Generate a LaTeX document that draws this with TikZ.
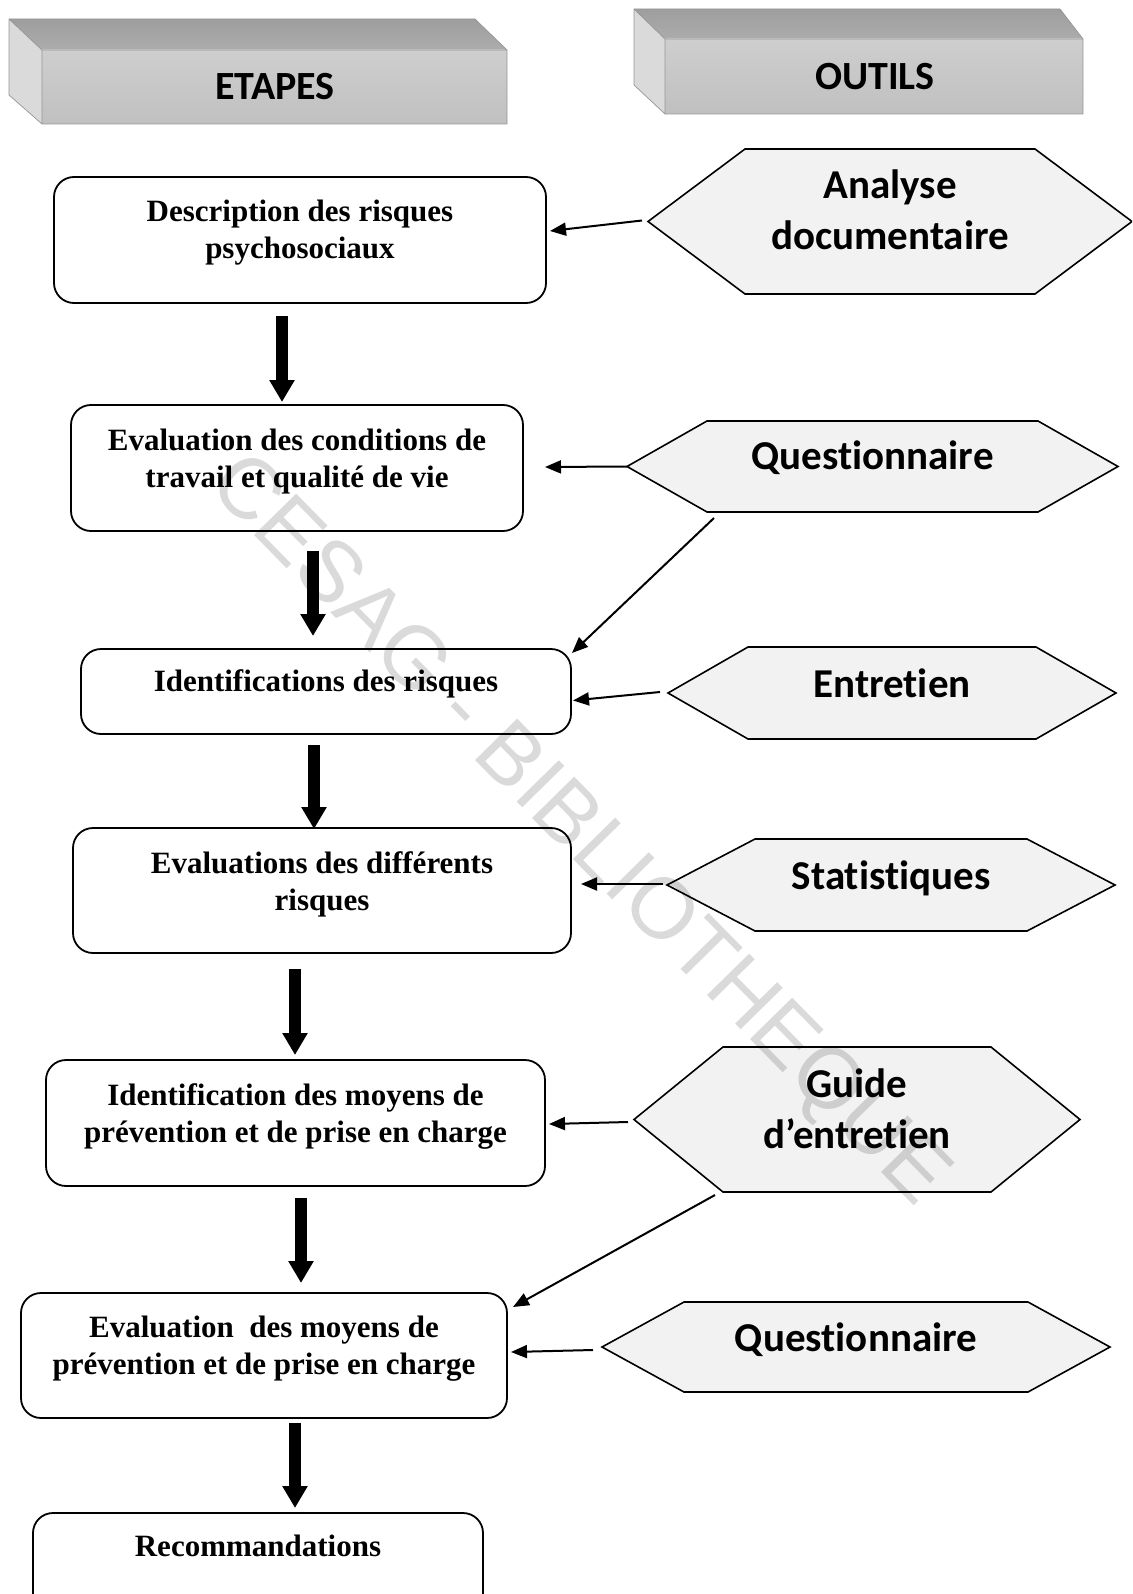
\documentclass[tikz,border=0pt]{standalone}
\usepackage{fontspec}
\setmainfont{Liberation Serif}
\newfontfamily\calibfont[Ligatures=NoCommon]{Carlito}
\newfontfamily\wmfont{Liberation Sans}
\usetikzlibrary{arrows.meta,calc}
\definecolor{wmgray}{RGB}{218,218,218}
\definecolor{topface}{RGB}{158,158,158}
\definecolor{topfaceb}{RGB}{172,172,172}
\definecolor{frontface}{RGB}{192,192,192}
\definecolor{frontfacet}{RGB}{206,206,206}
\definecolor{sideface}{RGB}{218,218,218}
\definecolor{edgegray}{RGB}{150,150,150}
\newcommand\drawhex[2]{\draw[hexline] (#1.west) -- ([xshift=#2]#1.north west) -- ([xshift=-#2]#1.north east) -- (#1.east) -- ([xshift=-#2]#1.south east) -- ([xshift=#2]#1.south west) -- cycle;}
\begin{document}
\begin{tikzpicture}[x=1pt,y=-1pt,
  stepbox/.style={draw=black, line width=1.8pt, rounded corners=20pt, inner sep=0pt, outer sep=0pt},
  boxtext/.style={font=\bfseries\fontsize{31}{37}\selectfont, align=center, inner sep=0pt},
  hextext/.style={font=\calibfont\bfseries\fontsize{41}{51}\selectfont, align=center, inner sep=0pt},
  headtext/.style={font=\calibfont\bfseries\fontsize{40}{48}\selectfont, inner sep=0pt},
  hexframe/.style={inner sep=0pt, outer sep=0pt},
  hexline/.style={draw=black, line width=1.6pt, fill=black, fill opacity=0.05, line join=miter},
  thinarrow/.style={line width=2pt, -{Triangle[length=16pt,width=13pt]}},
  bigarrow/.style={line width=12pt, -{Triangle[length=22pt,width=24pt]}},
  wmtext/.style={font=\wmfont\fontsize{86}{100}\selectfont, text=wmgray, inner sep=0pt}
]
\useasboundingbox (0,0) rectangle (1132,1594);
\clip (0,0) rectangle (1132,1594);

% watermark
\node[wmtext, rotate=-45.5] (wm) at (577,832) {CESAG - BIBLIOTHEQUE};

% header boxes
\fill[sideface] (9,19) -- (42,50) -- (42,124) -- (9,95) -- cycle;
\shade[top color=topface, bottom color=topfaceb] (9,19) -- (475,19) -- (507,50) -- (42,50) -- cycle;
\shade[top color=frontfacet, bottom color=frontface] (42,50) rectangle (507,124);
\draw[edgegray, line width=0.7pt, line join=round] (9,19) -- (475,19) -- (507,50) -- (507,124) -- (42,124) -- (9,95) -- cycle (9,19) -- (42,50) -- (507,50) (42,50) -- (42,124);
\node[headtext] (etapes) at (275,86.5) {ETAPES};

\fill[sideface] (634,9) -- (665,39) -- (665,114) -- (634,85) -- cycle;
\shade[top color=topface, bottom color=topfaceb] (634,9) -- (1060,9) -- (1083,39) -- (665,39) -- cycle;
\shade[top color=frontfacet, bottom color=frontface] (665,39) rectangle (1083,114);
\draw[edgegray, line width=0.7pt, line join=round] (634,9) -- (1060,9) -- (1083,39) -- (1083,114) -- (665,114) -- (634,85) -- cycle (634,9) -- (665,39) -- (1083,39) (665,39) -- (665,114);
\node[headtext] (outils) at (875,76.5) {OUTILS};

% step boxes
\node[stepbox, minimum width=492pt, minimum height=126pt] (b1) at (300,240) {};
\node[boxtext] at ($(b1.center)+(0,-7)$) {Description des risques\\psychosociaux};
\node[stepbox, minimum width=452pt, minimum height=126pt] (b2) at (297,468) {};
\node[boxtext] at ($(b2.center)+(0,-6.5)$) {Evaluation des conditions de\\travail et qualité de vie};
\node[stepbox, minimum width=490pt, minimum height=85pt] (b3) at (326,691.5) {};
\node[boxtext] at ($(b3.center)+(0,-7.5)$) {Identifications des risques};
\node[stepbox, minimum width=498pt, minimum height=125pt] (b4) at (322,890.5) {};
\node[boxtext] at ($(b4.center)+(0,-6.5)$) {Evaluations des différents\\risques};
\node[stepbox, minimum width=499pt, minimum height=126pt] (b5) at (295.5,1123) {};
\node[boxtext] at ($(b5.center)+(0,-7)$) {Identification des moyens de\\prévention et de prise en charge};
\node[stepbox, minimum width=486pt, minimum height=125pt] (b6) at (264,1355.5) {};
\node[boxtext] at ($(b6.center)+(0,-6.5)$) {Evaluation\ \ des moyens de\\prévention et de prise en charge};
\node[stepbox, minimum width=450pt, minimum height=126pt] (b7) at (258,1576) {};
\node[boxtext] at ($(b7.north)+(0,33)$) {Recommandations};

% tool hexagons
\node[hexframe, minimum width=484pt, minimum height=145pt] (h1) at (890,221.5) {};
\drawhex{h1}{97pt}
\node[hextext] at ($(h1.center)+(0,-11.5)$) {Analyse\\documentaire};
\node[hexframe, minimum width=491pt, minimum height=91pt] (h2) at (872.5,466.5) {};
\drawhex{h2}{80pt}
\node[hextext] at ($(h2.center)+(0,-8.5)$) {Questionnaire};
\node[hexframe, minimum width=448pt, minimum height=92pt] (h3) at (892,693) {};
\drawhex{h3}{80pt}
\node[hextext] at ($(h3.center)+(0,-10)$) {Entretien};
\node[hexframe, minimum width=448pt, minimum height=92pt] (h4) at (891,885) {};
\drawhex{h4}{88pt}
\node[hextext] at ($(h4.center)+(0,-6.5)$) {Statistiques};
\node[hexframe, minimum width=446pt, minimum height=145pt] (h5) at (857,1119.5) {};
\drawhex{h5}{89pt}
\node[hextext] at ($(h5.center)+(0,-11)$) {Guide\\d’entretien};
\node[hexframe, minimum width=508pt, minimum height=90pt] (h6) at (856,1347) {};
\drawhex{h6}{82pt}
\node[hextext] at ($(h6.center)+(0,-7.5)$) {Questionnaire};

% thin arrows tool -> step
\draw[thinarrow] ($(h1.west)+(-6,-1)$) -- ($(b1.east)+(4,-9)$);
\draw[thinarrow] (h2.west) -- ($(b2.east)+(22,-1)$);
\draw[thinarrow] ($(h2.south west)+(87,6)$) -- ($(b3.north east)+(1,4)$);
\draw[thinarrow] ($(h3.west)+(-8,-1)$) -- ($(b3.east)+(2,9)$);
\draw[thinarrow] ($(h4.west)+(-4,-1)$) -- ($(b4.east)+(10,-6.5)$);
\draw[thinarrow] ($(h5.west)+(-6,2.5)$) -- ($(b5.east)+(4,1)$);
\draw[thinarrow] ($(h5.south west)+(81,3)$) -- ($(b6.north east)+(6,14)$);
\draw[thinarrow] ($(h6.west)+(-9,3)$) -- ($(b6.east)+(4,-3.5)$);

% thick arrows between steps
\draw[bigarrow] ($(b1.south)+(-18,13)$) -- ($(b2.north)+(-15,-3)$);
\draw[bigarrow] ($(b2.south)+(16,20)$) -- ($(b3.north)+(-13,-13)$);
\draw[bigarrow] ($(b3.south)+(-12,11)$) -- ($(b4.north)+(-8,1)$);
\draw[bigarrow] ($(b4.south)+(-27,16)$) -- ($(b5.north)+(-0.5,-5)$);
\draw[bigarrow] ($(b5.south)+(5.5,12)$) -- ($(b6.north)+(37,-10)$);
\draw[bigarrow] ($(b6.south)+(31,5)$) -- ($(b7.north)+(37,-5)$);
\end{tikzpicture}
\end{document}
